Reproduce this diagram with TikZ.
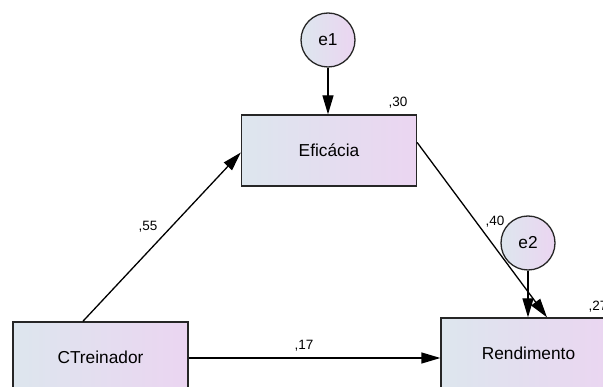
\documentclass[tikz,border=0pt]{standalone}
\usepackage{fontspec}
\setmainfont{Liberation Sans}
\usetikzlibrary{arrows.meta,calc}
\definecolor{lblue}{HTML}{DDE6EE}
\definecolor{lpink}{HTML}{EBD5F1}
\tikzset{
  var/.style={draw=black!85, line width=1.3pt, minimum width=175pt, minimum height=71pt,
    left color=lblue, right color=lpink, inner sep=0pt, font=\fontsize{17.3}{19}\selectfont},
  err/.style={circle, draw=black!85, line width=1.3pt, minimum size=54pt, inner sep=0pt,
    left color=lblue, right color=lpink, font=\fontsize{17.3}{19}\selectfont},
  path/.style={line width=1.3pt, -{Triangle[length=19pt,width=11pt]}},
  coef/.style={font=\fontsize{13.5}{15}\selectfont, inner sep=0pt}
}
\begin{document}
\begin{tikzpicture}[x=1pt,y=-1pt]
\useasboundingbox (0,0) rectangle (603,387);
\clip (0,0) rectangle (603,387);
\node[var] (ef) at (329,150.5) {Eficácia};
\node[var] (ct) at (100.5,357.5) {CTreinador};
\node[var] (rd) at (528.5,353.5) {Rendimento};
\node[err] (e1) at (328,40) {e1};
\node[err] (e2) at (528,243) {e2};
\draw[path] (e1) -- (e1.south |- ef.north);
\draw[path] ($(ct.north west)!0.4!(ct.north east)$) -- ([yshift=-2pt]ef.west);
\draw[path] ([yshift=8pt]ef.east) -- ([xshift=18.5pt]rd.north);
\draw[path] (e2) -- (e2.south |- rd.north);
\draw[path] ([yshift=-0.5pt]ct.east) -- ([yshift=-0.5pt]ct.east -| rd.west);
\node[coef] (l30) at (398,103) {,30};
\node[coef] (l55) at (148,227) {,55};
\node[coef] (l40) at (495,222) {,40};
\node[coef] (l17) at (304,346) {,17};
\node[coef] (l27) at (598,307) {,27};
\end{tikzpicture}
\end{document}
